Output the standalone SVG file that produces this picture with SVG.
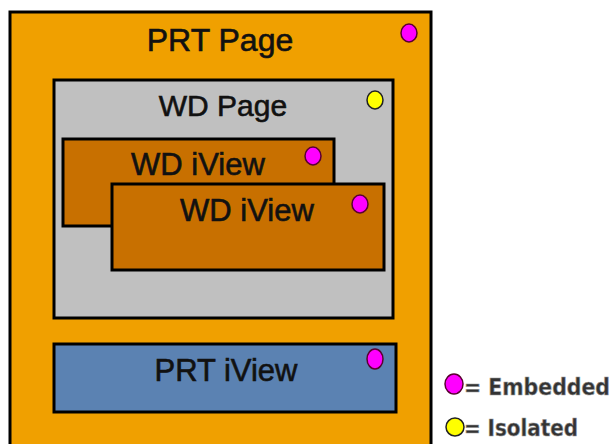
<svg xmlns="http://www.w3.org/2000/svg" width="613" height="444" viewBox="0 0 613 444">
<style>
.box{stroke:#000;stroke-width:3}
.t{font-family:"Liberation Sans",Arial,sans-serif;fill:#111;stroke:#111;stroke-width:0.6;text-anchor:middle}
.emb{fill:#ff00ff;stroke:#5a0030;stroke-width:1.5}
.iso{fill:#ffff00;stroke:#222;stroke-width:1.5}
.lg{font-family:"Liberation Sans Narrow","DejaVu Sans Condensed","Liberation Sans",sans-serif;font-weight:bold;font-size:23px;fill:#333;stroke:#999;stroke-width:0.6}
</style>
<rect width="613" height="444" fill="#fff"/>
<g id="prt-page">
<rect class="box" x="10" y="12" width="421" height="440" fill="#f0a000"/>
<text class="t" x="220" y="51" font-size="32">PRT Page</text>
<ellipse class="emb" cx="409" cy="33" rx="8" ry="9"/>
</g>
<g id="wd-page">
<rect class="box" x="54" y="80" width="339" height="238" fill="#c0c0c0"/>
<text class="t" x="223" y="116" font-size="30">WD Page</text>
<ellipse class="iso" cx="375" cy="100" rx="8" ry="9"/>
</g>
<g id="wd-iview-1">
<rect class="box" x="63" y="139" width="271" height="87" fill="#c87000"/>
<text class="t" x="198" y="175" font-size="31">WD iView</text>
<ellipse class="emb" cx="313" cy="156" rx="8" ry="9"/>
</g>
<g id="wd-iview-2">
<rect class="box" x="112" y="184" width="272" height="86" fill="#c87000"/>
<text class="t" x="247" y="221" font-size="31">WD iView</text>
<ellipse class="emb" cx="360" cy="204" rx="8" ry="9"/>
</g>
<g id="prt-iview">
<rect class="box" x="54" y="344" width="342" height="68" fill="#5b82b2"/>
<text class="t" x="226" y="381" font-size="31">PRT iView</text>
<ellipse class="emb" cx="375" cy="359" rx="8" ry="10"/>
</g>
<g id="legend">
<ellipse class="emb" cx="454" cy="384" rx="9" ry="10" stroke="#222"/>
<text class="lg" x="464" y="395" textLength="146" lengthAdjust="spacingAndGlyphs">= Embedded</text>
<ellipse class="iso" cx="455" cy="427" rx="9" ry="9"/>
<text class="lg" x="464" y="436" textLength="114" lengthAdjust="spacingAndGlyphs">= Isolated</text>
</g>
<g id="connectors"/>
</svg>
